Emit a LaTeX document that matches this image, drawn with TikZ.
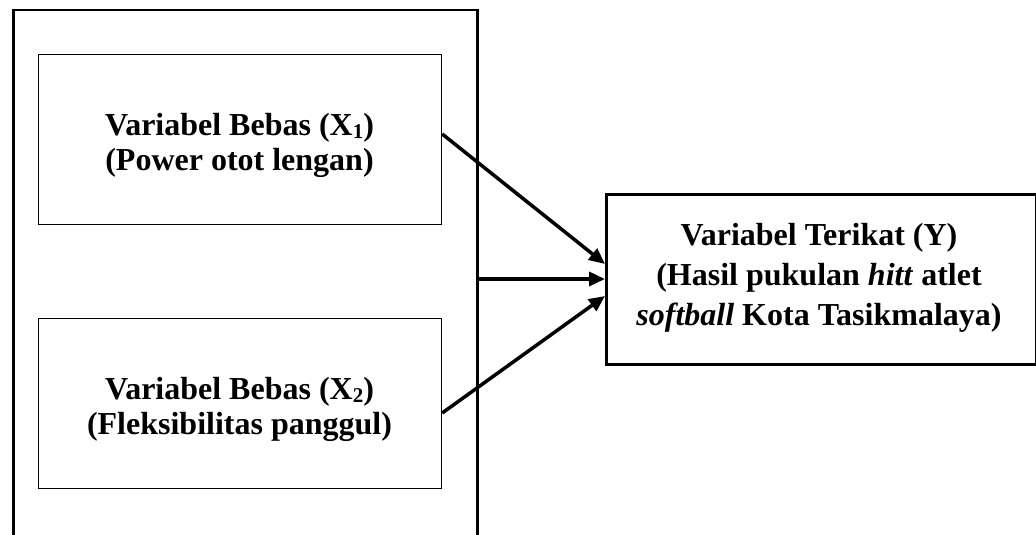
\documentclass[tikz,border=0pt]{standalone}
\usepackage{fontspec}
\setmainfont{Liberation Serif}
\usetikzlibrary{arrows.meta}
\newcommand{\sub}[1]{\raisebox{-0.1em}{\fontsize{21}{21}\selectfont #1}}
\begin{document}
\begin{tikzpicture}[x=1pt,y=-1pt,
  thinbox/.style={draw,line width=1.2pt,inner sep=0pt},
  thickbox/.style={draw,line width=2.5pt,inner sep=0pt},
  label/.style={align=center,font=\bfseries\fontsize{32}{35}\selectfont,inner sep=0pt},
  rlabel/.style={align=center,font=\bfseries\fontsize{32}{40}\selectfont,inner sep=0pt},
  link/.style={line width=3.5pt,-{Triangle[length=16pt,width=14pt]}}]
\useasboundingbox (0,0) rectangle (1036,535);
\clip (0,0) rectangle (1036,535);
% outer frame around the independent variables
\node[thickbox,minimum width=464pt,minimum height=560pt,anchor=north west] (frame) at (12,9) {};
% independent variables
\node[thinbox,minimum width=403pt,minimum height=170pt,anchor=north west] (x1) at (38,54) {};
\node[thinbox,minimum width=403pt,minimum height=170pt,anchor=north west] (x2) at (38,318) {};
\node[label] (tx1) at (239.5,145) {Variabel Bebas (X\sub{1})\\(Power otot lengan)};
\node[label] (tx2) at (239.5,409) {Variabel Bebas (X\sub{2})\\(Fleksibilitas panggul)};
% dependent variable
\node[thickbox,minimum width=430pt,minimum height=170pt,anchor=north west] (y) at (605,193) {};
\node[rlabel] (ty) at (819,278) {Variabel Terikat (Y)\\(Hasil pukulan \textit{hitt} atlet\\\textit{softball} Kota Tasikmalaya)};
% connection points
\coordinate (a1) at (x1.east |- 0,134);
\coordinate (a3) at (x2.east |- 0,413);
\coordinate (am) at (frame.east |- 0,279);
\coordinate (b1) at (y.west |- 0,264);
\coordinate (bm) at (y.west |- 0,279);
\coordinate (b3) at (y.west |- 0,296);
\draw[link] (a1) -- (b1);
\draw[link] (am) -- (bm);
\draw[link] (a3) -- (b3);
\end{tikzpicture}
\end{document}
